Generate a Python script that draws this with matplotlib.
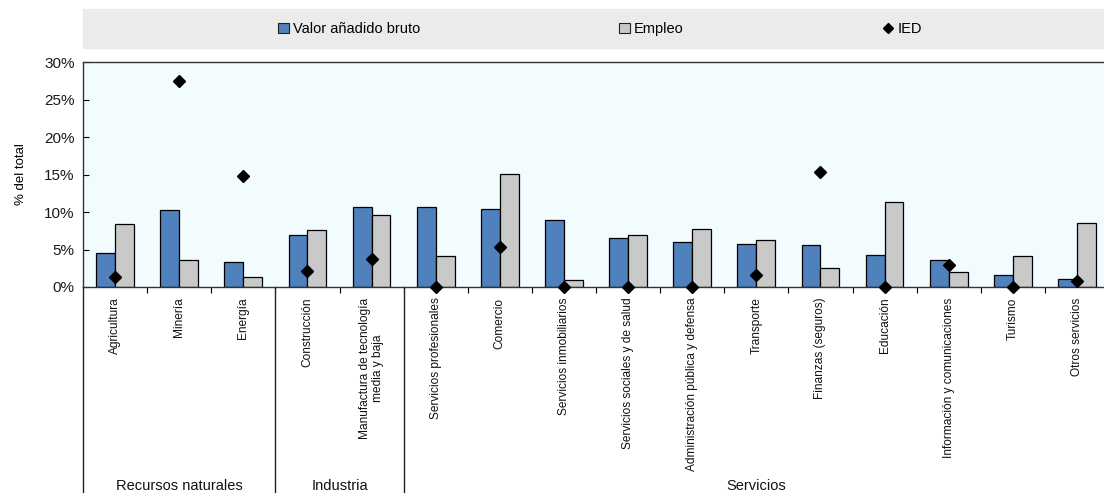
import matplotlib
matplotlib.use('Agg')
from matplotlib import pyplot as plt
from matplotlib.patches import Rectangle
from matplotlib.lines import Line2D
import numpy as np

categories = [
    'Agricultura', 'Minería', 'Energía', 'Construcción',
    'Manufactura de tecnología\nmedia y baja', 'Servicios profesionales',
    'Comercio', 'Servicios inmobiliarios', 'Servicios sociales y de salud',
    'Administración pública y defensa', 'Transporte', 'Finanzas (seguros)',
    'Educación', 'Información y comunicaciones', 'Turismo', 'Otros servicios',
]
vab = [4.5, 10.3, 3.3, 7.0, 10.7, 10.7, 10.4, 8.9, 6.5, 6.0, 5.7, 5.6, 4.3, 3.6, 1.6, 1.1]
empleo = [8.4, 3.6, 1.4, 7.6, 9.6, 4.1, 15.1, 0.9, 6.9, 7.8, 6.3, 2.5, 11.4, 2.0, 4.1, 8.5]
ied = [1.4, 27.5, 14.8, 2.2, 3.7, 0.0, 5.3, 0.0, 0.0, 0.0, 1.6, 15.4, 0.0, 3.0, 0.0, 0.8]
groups = [('Recursos naturales', 0, 2), ('Industria', 3, 4), ('Servicios', 5, 15)]

plt.rcParams['font.family'] = ['Liberation Sans', 'DejaVu Sans']

blue = '#4f81bd'
grey = '#c9c9c9'

W, H = 1104, 493
fig = plt.figure(figsize=(W / 100, H / 100), dpi=100)
ax_l, ax_r, ax_t, ax_b = 83, 1109, 62, 287
ax = fig.add_axes([ax_l / W, 1 - ax_b / H, (ax_r - ax_l) / W, (ax_b - ax_t) / H])
ax.set_facecolor('#f2fbfe')

x = np.arange(len(categories))
bw = 0.295
ax.bar(x - bw / 2, vab, bw, color=blue, edgecolor='black', linewidth=0.9, zorder=2)
ax.bar(x + bw / 2, empleo, bw, color=grey, edgecolor='black', linewidth=0.9, zorder=2)
ax.plot(x, ied, 'D', color='black', markersize=6.5, zorder=4, clip_on=False)

ax.set_xlim(-0.5, len(categories) - 0.5)
ax.set_ylim(0, 30)
ax.set_yticks(np.arange(0, 31, 5))
ax.set_yticklabels([f'{v}%' for v in range(0, 31, 5)], fontsize=11, color='#1a1a1a')
ax.tick_params(axis='y', length=4, width=0.8, pad=6, direction='in')
ax.set_xticks([])
ax.set_xticks(np.arange(0.5, len(categories) - 0.5), minor=True)
ax.tick_params(axis='x', which='minor', length=4, width=0.8, direction='out')
for s in ['top', 'left', 'bottom', 'right']:
    ax.spines[s].set_linewidth(1.0)
    ax.spines[s].set_color('#333333')
ax.set_ylabel('% del total', fontsize=9.5, labelpad=12)

trans = ax.get_xaxis_transform()
for i, c in enumerate(categories):
    ax.text(i, -0.047, c, rotation=90, ha='center', va='top', transform=trans,
            fontsize=8.6, multialignment='center', color='#111111')

for name, a, b in groups:
    ax.text((a + b) / 2, -0.855, name, ha='center', va='top', transform=trans,
            fontsize=10.5, color='#111111')
for xs in [-0.5, 2.5, 4.5]:
    ax.plot([xs, xs], [0, -1.0], transform=trans, color='#222222', lw=1.0, clip_on=False)

# legend band
fig.patches.append(Rectangle((ax_l / W, 1 - 48 / H), 1 - ax_l / W, 39 / H,
                             transform=fig.transFigure, color='#ebebeb', zorder=0))
handles = [
    Rectangle((0, 0), 1, 1, facecolor=blue, edgecolor='#222222', linewidth=0.8),
    Rectangle((0, 0), 1, 1, facecolor=grey, edgecolor='#222222', linewidth=0.8),
    Line2D([], [], marker='D', color='black', linestyle='none', markersize=5),
]
fig.legend(handles, ['Valor añadido bruto', 'Empleo', 'IED'], ncol=3,
           loc='center', bbox_to_anchor=(600 / W, 1 - 29 / H), frameon=False,
           fontsize=10.5, columnspacing=13.6, handlelength=0.75, handleheight=0.75,
           handletextpad=0.3, borderpad=0)

fig.savefig('out.png', dpi=100)
